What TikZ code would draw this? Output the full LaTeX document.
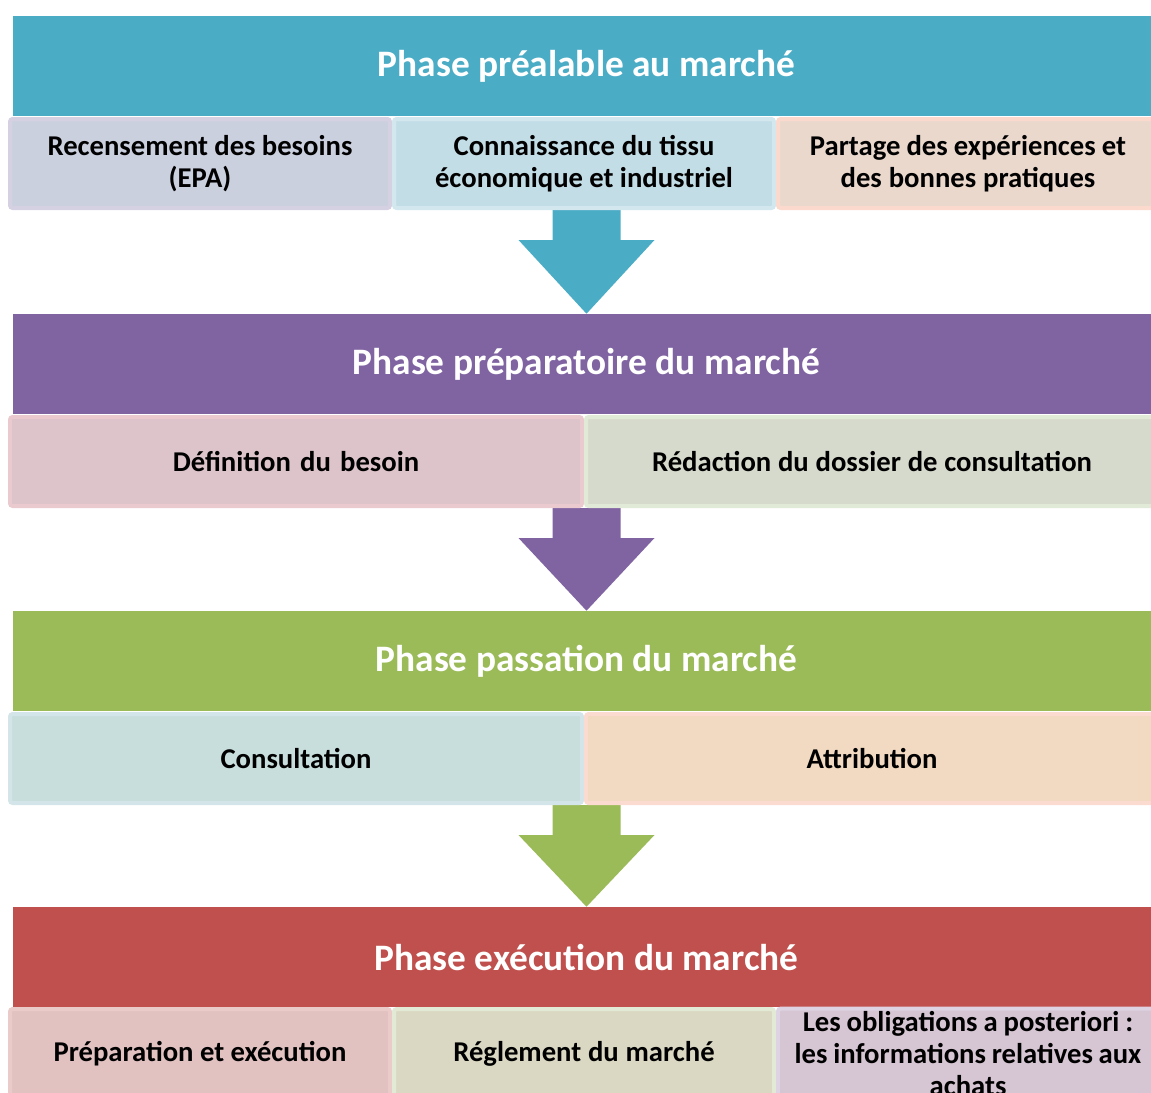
\documentclass[tikz,border=0pt]{standalone}
\usepackage{fontspec}
\setmainfont{Carlito}
\usetikzlibrary{calc,backgrounds}

\definecolor{phaseA}{HTML}{4BACC6}
\definecolor{phaseB}{HTML}{8064A2}
\definecolor{phaseC}{HTML}{9BBB59}
\definecolor{phaseD}{HTML}{C0504D}
% step boxes: border / fill
\definecolor{lineA}{HTML}{D6D1E2}\definecolor{fillA}{HTML}{CBD0DF}
\definecolor{lineB}{HTML}{D3E8EE}\definecolor{fillB}{HTML}{C3DDE6}
\definecolor{lineC}{HTML}{FBDACD}\definecolor{fillC}{HTML}{EAD8CD}
\definecolor{lineD}{HTML}{EBCACF}\definecolor{fillD}{HTML}{DDC3CA}
\definecolor{lineE}{HTML}{E0EAD6}\definecolor{fillE}{HTML}{D6DACC}
\definecolor{lineF}{HTML}{D4E5EA}\definecolor{fillF}{HTML}{C8DEDD}
\definecolor{lineG}{HTML}{FBDBD0}\definecolor{fillG}{HTML}{F2D9C1}
\definecolor{lineH}{HTML}{EBCACA}\definecolor{fillH}{HTML}{E2C1C1}
\definecolor{lineI}{HTML}{E2EAD6}\definecolor{fillI}{HTML}{DAD8C2}
\definecolor{lineJ}{HTML}{DDD3E3}\definecolor{fillJ}{HTML}{D6C5D2}

\begin{document}
\begin{tikzpicture}[
  x=0.75pt, y=-0.75pt,
  phase/.style={fill=#1,text=white,minimum width=860pt,minimum height=75pt,inner sep=0pt,
    font=\fontsize{28}{33}\selectfont\bfseries},
  sub/.style={draw=line#1,fill=fill#1,line width=3pt,rounded corners=2pt,minimum height=66.75pt,
    inner sep=2pt,align=center,font=\fontsize{21.5}{24}\selectfont\bfseries,
    execute at begin node={\spaceskip=0.19em plus 0.05em minus 0.03em\relax}},
  third/.style={minimum width=285pt,text width=278pt},
  half/.style={minimum width=429pt,text width=410pt}]
  \useasboundingbox (0,0) rectangle (1151,1092);
  % phases
  \node[phase=phaseA] (p1) at (586.5,66)  {Phase préalable au marché};
  \node[phase=phaseB] (p2) at (586.5,364) {Phase préparatoire du marché};
  \node[phase=phaseC] (p3) at (586.5,661) {Phase passation du marché};
  \node[phase=phaseD] (p4) at (586.5,957) {Phase exécution du marché};
  % steps
  \node[sub=A,third] (s11) at (200,163.5) {Recensement des besoins\\(EPA)};
  \node[sub=B,third] (s12) at (584,163.5) {Connaissance du tissu\\économique et industriel};
  \node[sub=C,third] (s13) at (968,163.5) {Partage des expériences et\\des bonnes pratiques};
  \node[sub=D,half] (s21) at (296,461.5) {Définition du besoin};
  \node[sub=E,half] (s22) at (872,461.5) {Rédaction du dossier de consultation};
  \node[sub=F,half] (s31) at (296,758.5) {Consultation};
  \node[sub=G,half] (s32) at (872,758.5) {Attribution};
  \node[sub=H,third] (s41) at (200,1053.5) {Préparation et exécution};
  \node[sub=I,third] (s42) at (584,1053.5) {Réglement du marché};
  \node[sub=J,third] (s43) at (968,1053.5) {Les obligations a posteriori :\\les informations relatives aux\\achats};
  % arrows
  \begin{scope}[on background layer]
  \foreach \s/\p/\c in {s12/p2/phaseA, s21/p3/phaseB, s31/p4/phaseC}{
    \coordinate (base) at (\p.north |- \s.south);
    \fill[\c] ($(base)+(-34,0)$) -- ++(0,30) -- ++(-34,0) -- (\p.north)
      -- ($(base)+(68,30)$) -- ++(-34,0) -- ++(0,-30) -- cycle;
  }
  \end{scope}
\end{tikzpicture}
\end{document}
